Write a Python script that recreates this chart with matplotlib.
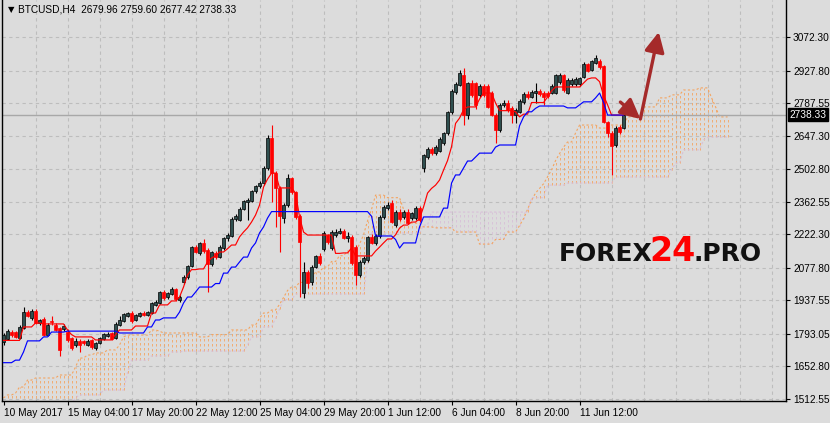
import numpy as np
import matplotlib
matplotlib.use('Agg')
import matplotlib.pyplot as plt
import matplotlib.transforms as mtransforms

plt.rcParams['font.family'] = ['Liberation Sans', 'DejaVu Sans']

# BTCUSD H4 candles (bar index 0 = 10 May 2017)
opens = [1760, 1770, 1801, 1800, 1775, 1818, 1887, 1860, 1891, 1840,
         1857, 1790, 1850, 1830, 1818, 1812, 1800, 1775, 1745, 1762,
         1762, 1745, 1767, 1733, 1755, 1770, 1785, 1797, 1775, 1832,
         1849, 1870, 1883, 1853, 1870, 1883, 1875, 1883, 1918, 1926,
         1973, 1952, 1965, 1986, 1939, 2016, 2038, 2085, 2167, 2142,
         2185, 2155, 2095, 2142, 2124, 2163, 2206, 2215, 2288, 2284,
         2331, 2362, 2366, 2409, 2430, 2443, 2508, 2637, 2486, 2422,
         2292, 2348, 2464, 2404, 2300, 1969, 2060, 2016, 2081, 2128,
         2160, 2219, 2163, 2219, 2228, 2237, 2206, 2210, 2167, 2047,
         2103, 2111, 2210, 2185, 2215, 2297, 2335, 2357, 2262, 2318,
         2297, 2318, 2292, 2292, 2335, 2508, 2555, 2590, 2572, 2581,
         2615, 2659, 2749, 2835, 2866, 2909, 2737, 2874, 2874, 2822,
         2861, 2861, 2831, 2737, 2672, 2780, 2788, 2767, 2737, 2750,
         2792, 2827, 2814, 2831, 2840, 2831, 2831, 2831, 2831, 2880,
         2909, 2831, 2870, 2870, 2870, 2900, 2956, 2930, 2960, 2969,
         2947, 2706, 2659, 2607, 2685, 2679.96]
highs = [1797, 1815, 1810, 1805, 1830, 1909, 1895, 1900, 1900, 1858,
         1866, 1840, 1870, 1840, 1822, 1835, 1815, 1780, 1775, 1770,
         1768, 1770, 1772, 1760, 1780, 1797, 1800, 1800, 1845, 1870,
         1885, 1888, 1892, 1880, 1888, 1892, 1892, 1930, 1940, 1980,
         1982, 1975, 1995, 1992, 1960, 2045, 2090, 2170, 2175, 2190,
         2200, 2165, 2150, 2150, 2175, 2210, 2228, 2295, 2310, 2340,
         2372, 2378, 2415, 2436, 2450, 2515, 2650, 2693, 2495, 2430,
         2355, 2480, 2470, 2410, 2310, 2102, 2070, 2090, 2135, 2140,
         2235, 2225, 2240, 2245, 2250, 2245, 2230, 2220, 2175, 2110,
         2130, 2215, 2225, 2225, 2305, 2350, 2360, 2370, 2325, 2330,
         2325, 2330, 2320, 2345, 2345, 2570, 2600, 2598, 2605, 2640,
         2665, 2755, 2850, 2880, 2930, 2939, 2880, 2885, 2880, 2868,
         2870, 2868, 2840, 2745, 2790, 2800, 2800, 2775, 2765, 2805,
         2835, 2840, 2845, 2874, 2848, 2838, 2838, 2870, 2915, 2918,
         2915, 2895, 2895, 2900, 2902, 2965, 2962, 2975, 2995, 2978,
         2952, 2712, 2668, 2690, 2695, 2759.60]
lows = [1745, 1765, 1780, 1775, 1770, 1815, 1865, 1855, 1835, 1830,
        1785, 1785, 1830, 1805, 1698, 1805, 1760, 1725, 1735, 1715,
        1745, 1740, 1730, 1725, 1750, 1765, 1780, 1765, 1770, 1828,
        1845, 1865, 1840, 1848, 1865, 1870, 1870, 1878, 1912, 1920,
        1940, 1945, 1960, 1935, 1930, 2010, 2030, 2080, 2140, 2135,
        2140, 1973, 2085, 2115, 2118, 2155, 2195, 2210, 2280, 2278,
        2325, 2284, 2360, 2400, 2420, 2435, 2500, 2362, 2254, 2145,
        2270, 2340, 2395, 2290, 1950, 1948, 1991, 2005, 2075, 2090,
        2150, 2180, 2155, 2210, 2222, 2200, 2190, 2090, 2004, 2040,
        2095, 2105, 2180, 2178, 2208, 2290, 2325, 2270, 2255, 2280,
        2290, 2265, 2285, 2285, 2275, 2490, 2548, 2565, 2565, 2575,
        2608, 2652, 2742, 2828, 2860, 2693, 2720, 2815, 2760, 2815,
        2815, 2765, 2730, 2616, 2665, 2770, 2750, 2702, 2702, 2745,
        2785, 2805, 2808, 2788, 2820, 2780, 2810, 2825, 2825, 2872,
        2835, 2825, 2862, 2862, 2862, 2895, 2920, 2925, 2955, 2935,
        2700, 2640, 2478, 2600, 2655, 2677.42]
closes = [1788, 1805, 1788, 1780, 1822, 1887, 1870, 1891, 1840, 1853,
          1788, 1831, 1845, 1810, 1724, 1827, 1767, 1733, 1762, 1745,
          1753, 1762, 1737, 1754, 1775, 1792, 1792, 1771, 1836, 1853,
          1879, 1883, 1849, 1875, 1883, 1875, 1887, 1926, 1930, 1973,
          1948, 1969, 1986, 1943, 1952, 2038, 2085, 2167, 2146, 2185,
          2150, 2095, 2146, 2124, 2167, 2206, 2219, 2288, 2301, 2331,
          2366, 2370, 2409, 2430, 2443, 2508, 2637, 2486, 2422, 2300,
          2348, 2464, 2404, 2297, 2190, 2060, 2012, 2081, 2128, 2098,
          2228, 2189, 2232, 2232, 2237, 2206, 2215, 2098, 2047, 2103,
          2120, 2210, 2185, 2215, 2297, 2340, 2348, 2275, 2318, 2290,
          2318, 2271, 2314, 2335, 2284, 2563, 2590, 2572, 2598, 2633,
          2659, 2749, 2840, 2870, 2917, 2737, 2874, 2822, 2779, 2861,
          2822, 2770, 2737, 2672, 2780, 2788, 2758, 2737, 2759, 2797,
          2827, 2814, 2835, 2840, 2827, 2814, 2818, 2861, 2909, 2909,
          2844, 2887, 2887, 2892, 2896, 2956, 2926, 2969, 2982, 2943,
          2706, 2659, 2603, 2680, 2665, 2738.33]

# Ichimoku lines
tenkan = [1765, 1765, 1765, 1765, 1765, 1823, 1823, 1823, 1840, 1840,
          1836, 1836, 1836, 1836, 1836, 1836, 1810, 1790, 1780, 1780,
          1780, 1780, 1780, 1767, 1767, 1767, 1767, 1767, 1790, 1810,
          1810, 1810, 1810, 1827, 1827, 1827, 1827, 1883, 1883, 1918,
          1918, 1918, 1935, 1935, 1952, 1995, 2047, 2070, 2070, 2073,
          2073, 2103, 2120, 2129, 2146, 2146, 2160, 2176, 2176, 2211,
          2232, 2250, 2275, 2305, 2348, 2426, 2460, 2486, 2486, 2422,
          2422, 2422, 2422, 2400, 2297, 2232, 2219, 2219, 2219, 2219,
          2219, 2219, 2219, 2140, 2140, 2142, 2142, 2163, 2129, 2129,
          2129, 2129, 2129, 2150, 2167, 2185, 2202, 2202, 2220, 2249,
          2262, 2262, 2275, 2275, 2290, 2340, 2400, 2420, 2434, 2456,
          2499, 2540, 2600, 2700, 2723, 2759, 2771, 2771, 2771, 2805,
          2831, 2831, 2831, 2788, 2755, 2755, 2755, 2755, 2750, 2728,
          2740, 2740, 2790, 2790, 2790, 2790, 2814, 2840, 2857, 2857,
          2857, 2857, 2857, 2857, 2857, 2874, 2891, 2896, 2896, 2880,
          2820, 2780, 2736, 2736, 2736, 2736]
kijun = [1669, 1669, 1669, 1680, 1680, 1715, 1763, 1763, 1763, 1763,
         1780, 1780, 1801, 1801, 1801, 1801, 1805, 1805, 1805, 1805,
         1805, 1805, 1805, 1805, 1805, 1805, 1805, 1805, 1805, 1797,
         1797, 1797, 1797, 1797, 1797, 1797, 1823, 1823, 1853, 1853,
         1862, 1862, 1862, 1862, 1887, 1926, 1952, 1952, 1973, 1995,
         1995, 1995, 1995, 2010, 2010, 2055, 2055, 2081, 2081, 2103,
         2124, 2124, 2163, 2185, 2228, 2254, 2292, 2320, 2320, 2320,
         2320, 2320, 2320, 2320, 2320, 2320, 2320, 2320, 2320, 2320,
         2320, 2320, 2320, 2320, 2320, 2320, 2320, 2320, 2320, 2320,
         2320, 2320, 2300, 2215, 2215, 2215, 2215, 2215, 2200, 2163,
         2185, 2185, 2185, 2185, 2254, 2297, 2297, 2297, 2297, 2297,
         2335, 2335, 2443, 2478, 2478, 2508, 2538, 2538, 2555, 2572,
         2572, 2572, 2572, 2598, 2607, 2607, 2607, 2607, 2607, 2690,
         2728, 2750, 2750, 2765, 2775, 2775, 2775, 2775, 2775, 2775,
         2775, 2767, 2767, 2767, 2780, 2793, 2793, 2793, 2810, 2831,
         2790, 2736, 2736, 2736, 2736, 2736]
span_a = [1517, 1530, 1530, 1538, 1564, 1564, 1594, 1594, 1603, 1603,
          1603, 1603, 1603, 1603, 1616, 1616, 1616, 1616, 1650, 1689,
          1689, 1702, 1702, 1711, 1711, 1711, 1724, 1724, 1724, 1745,
          1780, 1788, 1788, 1788, 1788, 1788, 1788, 1810, 1810, 1805,
          1797, 1797, 1797, 1797, 1797, 1797, 1797, 1797, 1797, 1780,
          1780, 1780, 1790, 1790, 1790, 1790, 1790, 1810, 1810, 1810,
          1810, 1810, 1831, 1831, 1861, 1883, 1883, 1896, 1896, 1920,
          1950, 1980, 1995, 1995, 2015, 2015, 2030, 2030, 2060, 2060,
          2081, 2081, 2105, 2105, 2130, 2130, 2150, 2150, 2150, 2180,
          2220, 2280, 2330, 2391, 2391, 2391, 2380, 2380, 2380, 2380,
          2330, 2300, 2270, 2270, 2270, 2254, 2254, 2254, 2250, 2250,
          2250, 2250, 2250, 2232, 2232, 2232, 2232, 2232, 2232, 2180,
          2180, 2180, 2180, 2200, 2200, 2200, 2232, 2232, 2232, 2260,
          2290, 2330, 2370, 2400, 2420, 2440, 2470, 2500, 2540, 2570,
          2598, 2620, 2620, 2659, 2693, 2693, 2693, 2693, 2693, 2680,
          2680, 2680, 2693, 2693, 2693, 2693, 2728, 2728, 2728, 2728,
          2771, 2771, 2771, 2771, 2810, 2810, 2810, 2823, 2823, 2823,
          2844, 2844, 2844, 2844, 2853, 2853, 2853, 2810, 2771, 2728,
          2728, 2728]
span_b = [1495, 1495, 1495, 1495, 1495, 1495, 1495, 1495, 1495, 1495,
          1495, 1495, 1495, 1495, 1495, 1495, 1495, 1495, 1517, 1530,
          1530, 1530, 1530, 1530, 1530, 1551, 1551, 1551, 1551, 1551,
          1551, 1625, 1680, 1680, 1680, 1680, 1680, 1698, 1698, 1698,
          1698, 1698, 1715, 1715, 1715, 1719, 1719, 1719, 1719, 1719,
          1719, 1719, 1719, 1719, 1719, 1719, 1719, 1719, 1719, 1719,
          1719, 1745, 1780, 1780, 1780, 1823, 1823, 1823, 1860, 1900,
          1940, 1940, 1940, 1965, 1965, 1965, 1965, 1965, 1965, 1965,
          1965, 1965, 1965, 1965, 1965, 1965, 1965, 1965, 1965, 1965,
          1965, 2100, 2228, 2228, 2228, 2228, 2228, 2228, 2228, 2228,
          2228, 2228, 2228, 2228, 2228, 2262, 2262, 2318, 2318, 2318,
          2318, 2318, 2318, 2318, 2318, 2318, 2318, 2318, 2318, 2318,
          2318, 2318, 2318, 2318, 2318, 2318, 2318, 2318, 2318, 2318,
          2318, 2318, 2380, 2380, 2380, 2380, 2434, 2434, 2434, 2434,
          2434, 2443, 2443, 2443, 2443, 2443, 2443, 2443, 2443, 2443,
          2443, 2443, 2443, 2469, 2469, 2469, 2469, 2469, 2469, 2469,
          2469, 2469, 2469, 2469, 2469, 2469, 2469, 2500, 2529, 2529,
          2586, 2586, 2586, 2586, 2586, 2629, 2641, 2641, 2641, 2641,
          2641, 2641]

assert len(opens) == len(highs) == len(lows) == len(closes) == 156
assert len(tenkan) == len(kijun) == 156
assert len(span_a) == len(span_b) == 182

x_ticks = [0, 16, 32, 48, 64, 80, 96, 112, 128, 144]
x_labels = ['10 May 2017', '15 May 04:00', '17 May 20:00', '22 May 12:00',
            '25 May 04:00', '29 May 20:00', '1 Jun 12:00', '6 Jun 04:00',
            '8 Jun 20:00', '11 Jun 12:00']
y_ticks = [1512.55, 1652.80, 1793.05, 1937.55, 2077.80, 2222.30,
           2362.55, 2502.80, 2647.30, 2787.55, 2927.80, 3072.30]
last_price = 2738.33
title = 'BTCUSD,H4  2679.96 2759.60 2677.42 2738.33'

# forecast arrows (bar index, price)
arrow_short = ((154.2, 2792), (159.2, 2719))
arrow_long = ((159.2, 2719), (163.8, 3094))

BG = '#DCDCDC'
GRID = '#BDBDBD'
fig = plt.figure(figsize=(8.3, 4.23), dpi=100, facecolor=BG)
ax = fig.add_axes([2/830, 1 - 401/423, 784/830, 401/423])
ax.set_facecolor(BG)
ax.set_xlim(-0.375, 195.6)
ax.set_ylim(1503.9, 3231.8)

# grid
for g in range(8, 196, 8):
    ax.axvline(g, color=GRID, lw=0.8, ls=(0, (3, 3)), zorder=0)
for p in y_ticks:
    ax.axhline(p, color=GRID, lw=0.8, ls=(0, (3, 3)), zorder=0)

# cloud (hatched with one dashed vertical per bar)
A = np.array(span_a, dtype=float)
B = np.array(span_b, dtype=float)
kc = np.arange(len(A))
bull = A >= B
ax.vlines(kc[bull], B[bull], A[bull], colors='#F4A460', lw=0.6,
          linestyles=(0, (3, 3)), zorder=1)
ax.vlines(kc[~bull], A[~bull], B[~bull], colors='#D8BFD8', lw=0.6,
          linestyles=(0, (3, 3)), zorder=1)
ax.plot(kc, A, color='#F4A460', lw=0.8, ls=(0, (2, 2)), zorder=1)
ax.plot(kc, B, color='#D8BFD8', lw=0.8, ls=(0, (2, 2)), zorder=1)

# current price line
ax.axhline(last_price, color='#A8A8A8', lw=1, zorder=2)

# candles
o = np.array(opens); h = np.array(highs); l = np.array(lows); c = np.array(closes)
k = np.arange(len(o))
up = c >= o
ax.vlines(k[up], l[up], h[up], colors='black', lw=0.8, zorder=3)
ax.vlines(k[~up], l[~up], h[~up], colors='red', lw=0.8, zorder=3)
ax.bar(k[up], c[up] - o[up], bottom=o[up], width=0.62, color='#2F4F4F',
       edgecolor='black', lw=0.5, zorder=4)
ax.bar(k[~up], o[~up] - c[~up], bottom=c[~up], width=0.62, color='red',
       edgecolor='red', lw=0.5, zorder=4)

# tenkan / kijun
ax.plot(k, tenkan, color='red', lw=0.85, zorder=5)
ax.plot(k, kijun, color='blue', lw=0.85, zorder=5)

# arrows
for tail, head in (arrow_short, arrow_long):
    ax.annotate('', xy=head, xytext=tail,
                arrowprops=dict(arrowstyle='-|>,head_length=1.0,head_width=0.5',
                                color='#A52A2A', lw=2.4, shrinkA=0, shrinkB=0,
                                mutation_scale=12), zorder=6)

# axes styling
for s in ['left', 'bottom', 'right']:
    ax.spines[s].set_color('black')
    ax.spines[s].set_linewidth(1)
ax.spines['top'].set_visible(False)
ax.yaxis.tick_right()
ax.set_yticks(y_ticks)
ax.set_yticklabels(['%.2f' % v for v in y_ticks])
ax.set_xticks(x_ticks)
ax.set_xticklabels(x_labels)
ax.tick_params(axis='both', direction='out', length=3, width=0.8,
               colors='black', labelsize=7.3, pad=2)
for lbl in ax.get_xticklabels():
    lbl.set_horizontalalignment('left')

# last price tag
trans = mtransforms.blended_transform_factory(ax.transAxes, ax.transData)
ax.text(1.004, last_price, '%.2f' % last_price, transform=trans, ha='left',
        va='center', color='white', fontsize=7.3, zorder=10, clip_on=False,
        bbox=dict(boxstyle='square,pad=0.15', fc='black', ec='black'))

# header
fig.text(8/830, 1 - 10/423, '\u25bc', fontsize=6, va='center', ha='left',
         family=['DejaVu Sans'])
fig.text(18/830, 1 - 10/423, title, fontsize=7.3, va='center', ha='left')

# watermark
base = 1 - 261/423
fig.text(559/830, base, 'FOREX', fontsize=18, fontweight='bold',
         color='#111111', va='baseline', family=['DejaVu Sans'])
fig.text(649/830, base, '24', fontsize=24, fontweight='bold',
         color='#FF0000', va='baseline', family=['DejaVu Sans'])
fig.text(693/830, base, '.PRO', fontsize=18, fontweight='bold',
         color='#111111', va='baseline', family=['DejaVu Sans'])

fig.savefig('out.png', dpi=100, facecolor=BG)
